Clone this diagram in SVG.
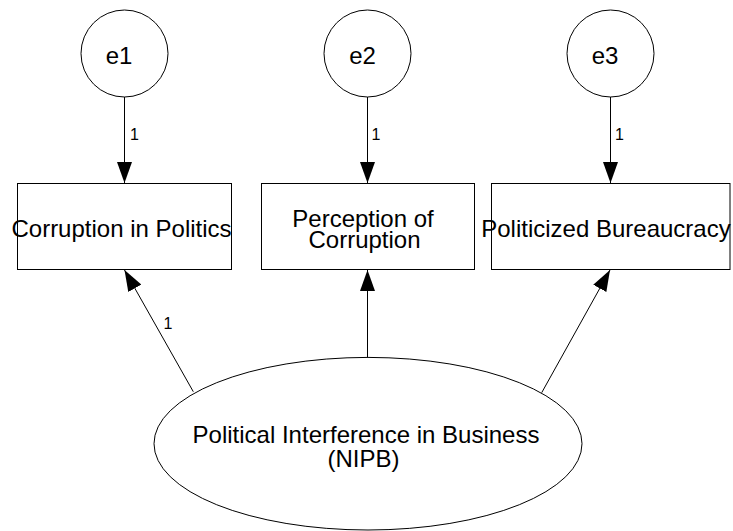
<svg xmlns="http://www.w3.org/2000/svg" width="733" height="531" viewBox="0 0 733 531">
  <style>
    .shape { fill: #ffffff; stroke: #000000; stroke-width: 1; }
    .edge { fill: none; stroke: #000000; stroke-width: 1; }
    .label { font-family: "Liberation Sans", Arial, sans-serif; font-size: 24px; fill: #000000; text-anchor: middle; }
    .weight { font-family: "Liberation Sans", Arial, sans-serif; font-size: 16px; fill: #000000; }
  </style>
  <defs>
    <marker id="arrow" markerUnits="userSpaceOnUse" markerWidth="21" markerHeight="15" refX="21" refY="7.5" orient="auto">
      <path d="M0,0 L21,7.5 L0,15 Z" fill="#000000"/>
    </marker>
  </defs>
  <rect width="733" height="531" fill="#ffffff"/>

  <!-- connectors -->
  <g id="connectors">
    <line class="edge" x1="124.5" y1="97" x2="124.5" y2="183" marker-end="url(#arrow)"/>
    <line class="edge" x1="367.5" y1="97" x2="367.5" y2="183" marker-end="url(#arrow)"/>
    <line class="edge" x1="610.5" y1="97" x2="610.5" y2="183" marker-end="url(#arrow)"/>
    <line class="edge" x1="367.5" y1="357.5" x2="367.5" y2="270" marker-end="url(#arrow)"/>
    <line class="edge" x1="193.3" y1="391.7" x2="124.5" y2="270" marker-end="url(#arrow)"/>
    <line class="edge" x1="541.7" y1="392.7" x2="610" y2="270" marker-end="url(#arrow)"/>
    <text class="weight" x="130" y="139.5">1</text>
    <text class="weight" x="371.5" y="139.5">1</text>
    <text class="weight" x="615" y="139.5">1</text>
    <text class="weight" x="163.5" y="329">1</text>
  </g>

  <!-- error terms -->
  <g id="e1">
    <circle class="shape" cx="124.5" cy="53.5" r="43.5"/>
    <text class="label" x="119" y="64">e1</text>
  </g>
  <g id="e2">
    <circle class="shape" cx="367.5" cy="53.5" r="43.5"/>
    <text class="label" x="362.5" y="64">e2</text>
  </g>
  <g id="e3">
    <circle class="shape" cx="610.5" cy="53.5" r="43.5"/>
    <text class="label" x="605" y="64">e3</text>
  </g>

  <!-- observed variables -->
  <g id="corruption-in-politics">
    <rect class="shape" x="17.5" y="183.5" width="214" height="86"/>
    <text class="label" x="121.5" y="237">Corruption in Politics</text>
  </g>
  <g id="perception-of-corruption">
    <rect class="shape" x="261.5" y="183.5" width="213" height="86"/>
    <text class="label" x="363" y="226.5">Perception of</text>
    <text class="label" x="364.5" y="248">Corruption</text>
  </g>
  <g id="politicized-bureaucracy">
    <rect class="shape" x="491.5" y="183.5" width="238.5" height="86"/>
    <text class="label" x="606" y="237">Politicized Bureaucracy</text>
  </g>

  <!-- latent variable -->
  <g id="nipb">
    <ellipse class="shape" cx="368" cy="443.7" rx="214" ry="86.3"/>
    <text class="label" x="366" y="443">Political Interference in Business</text>
    <text class="label" x="363.5" y="467">(NIPB)</text>
  </g>
</svg>
